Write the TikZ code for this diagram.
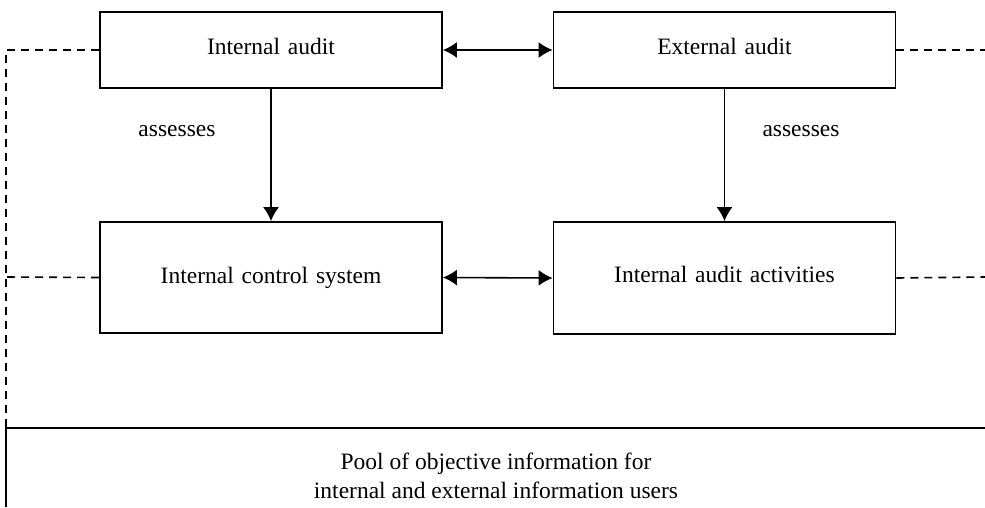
\documentclass[tikz,border=0pt]{standalone}
\usepackage{fontspec}
\setmainfont{Liberation Serif}
\usetikzlibrary{arrows.meta}

\tikzstyle{block} = [ draw,line width=1.8pt,text width=320pt,align=center,
                      inner sep=0pt,minimum width=342pt]
\tikzstyle{link}  = [ line width=1.6pt,>={Latex[length=14pt,width=16pt]}]
\tikzstyle{pool}  = [ line width=1.6pt,dash pattern=on 8pt off 6pt]

\begin{document}
\begin{tikzpicture}[x=1pt,y=-1pt,font=\fontsize{23.5}{29}\selectfont]
  \useasboundingbox (0,0) rectangle (985,507);

  \node[block,minimum height=76pt]  at (271,50)    (ia)  {\raisebox{8pt}{Internal audit}};
  \node[block,minimum height=76pt]  at (724.5,50)  (ea)  {\raisebox{8pt}{External audit}};
  \node[block,minimum height=111pt] at (271,277.5) (ics) {\raisebox{-1pt}{Internal control system}};
  \node[block,minimum height=112pt] at (724.5,278) (iaa) {\raisebox{7pt}{Internal audit activities}};

  \node at (177,131) (as1) {assesses};
  \node at (801,131) (as2) {assesses};

  \coordinate (tl) at (6,50);
  \coordinate (tr) at (985,50);
  \coordinate (ml) at (6,277);
  \coordinate (mr) at (985,277);
  \coordinate (bl) at (6,428);
  \coordinate (br) at (985,428);
  \coordinate (bb) at (6,507);

  \draw[link,<->] (ia.east) -- (ea.west);
  \draw[link,<->] (ics.east) -- (iaa.west);
  \draw[link,->] (ia.south) -- (ics.north);
  \draw[link,->] (ea.south) -- (iaa.north);

  \draw[pool] (ia.west) -- (tl) -- (bl);
  \draw[pool] (ics.west) -- (ml);
  \draw[pool] (ea.east) -- (tr);
  \draw[pool] (iaa.east) -- (mr);
  \draw[link] (br) -- (bl) -- (bb);

  \node[align=center] at (496,476) (info)
    {Pool of objective information for\\internal and external information users};
\end{tikzpicture}
\end{document}
